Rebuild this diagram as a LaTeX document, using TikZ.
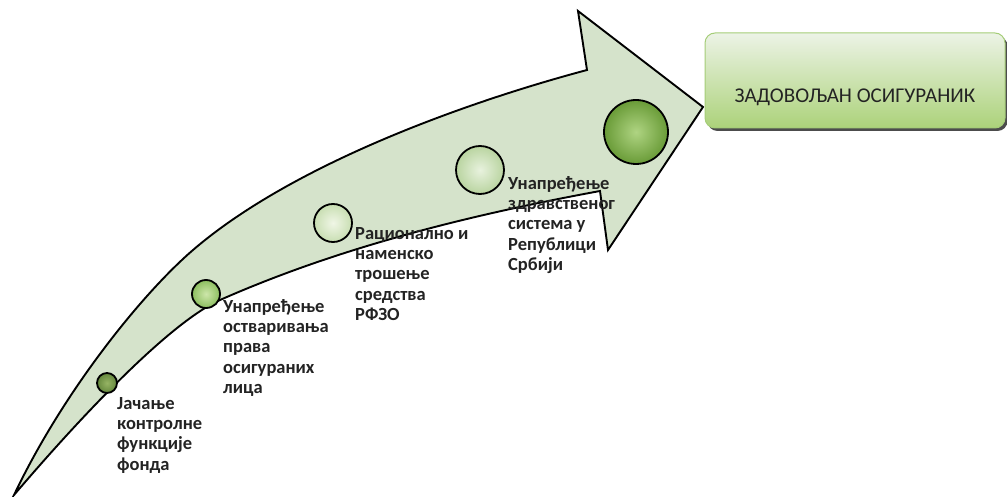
\documentclass[tikz,border=0pt]{standalone}
\usepackage{fontspec}
\setmainfont{Carlito}
\usepackage{xcolor}
\usetikzlibrary{positioning,calc,shadows}
\definecolor{shaftfill}{RGB}{213,227,203}
\definecolor{labeltext}{RGB}{35,35,35}
\definecolor{boxtop}{RGB}{236,243,230}
\definecolor{boxbottom}{RGB}{172,210,122}
\definecolor{boxrim}{RGB}{165,205,120}

\begin{document}
\begin{tikzpicture}[x=1pt,y=-1pt,
  bubble/.style={circle,draw=black,line width=1.8pt,inner sep=0pt},
  steplabel/.style={anchor=north west,align=left,inner sep=0pt,
    font=\bfseries\fontsize{18.5}{20.3}\selectfont,text=labeltext},
  goalbox/.style={rounded corners=10pt,draw=boxrim,line width=1pt,
    top color=boxtop,bottom color=boxbottom,
    minimum width=300pt,inner xsep=0pt,inner ysep=0pt,
    text height=70pt,text depth=25pt,
    font=\fontsize{21}{25}\selectfont,text=labeltext,
    drop shadow={shadow xshift=2.5pt,shadow yshift=-3pt,fill=black!70,opacity=1}}]
  \useasboundingbox (0,0) rectangle (1007,497);
  % curved arrow (upper edge, head, lower edge)
  \draw[fill=shaftfill,line width=1.9pt,line join=miter]
    (14,495) .. controls (64,390) and (143,293) .. (193,250)
    .. controls (293,164) and (467,102) .. (587,70)
    -- (578,11) -- (703,107) -- (608,250) -- (600,191)
    .. controls (470,215) and (340,247) .. (220,300)
    .. controls (175,320) and (95,400) .. cycle;
  % bubbles along the arrow
  \node[bubble,minimum size=20pt,inner color={rgb,255:red,150;green,180;blue,100},
    outer color={rgb,255:red,100;green,135;blue,60}] (b1) at (107,383) {};
  \node[bubble,minimum size=28pt,inner color={rgb,255:red,205;green,230;blue,170},
    outer color={rgb,255:red,140;green,190;blue,95}] (b2) at (206,294) {};
  \node[bubble,minimum size=38pt,inner color={rgb,255:red,240;green,246;blue,230},
    outer color={rgb,255:red,200;green,222;blue,178}] (b3) at (333,223) {};
  \node[bubble,minimum size=48pt,inner color={rgb,255:red,232;green,242;blue,222},
    outer color={rgb,255:red,185;green,212;blue,160}] (b4) at (480,170) {};
  \node[bubble,minimum size=64pt,inner color={rgb,255:red,175;green,212;blue,130},
    outer color={rgb,255:red,105;green,155;blue,55}] (b5) at (636,132) {};
  % step texts
  \node[steplabel] (l1) at (117,397) {Јачање\\контролне\\функције\\фонда};
  \node[steplabel] (l2) at (223,299) {Унапређење\\остваривања\\права\\осигураних\\лица};
  \node[steplabel] (l3) at (355,227) {Рационално и\\наменско\\трошење\\средства\\РФЗО};
  \node[steplabel] (l4) at (508,176) {Унапређење\\здравственог\\система у\\Републици\\Србији};
  % goal
  \node[goalbox] (goal) at (855,80.5) {ЗАДОВОЉАН ОСИГУРАНИК};
\end{tikzpicture}
\end{document}
